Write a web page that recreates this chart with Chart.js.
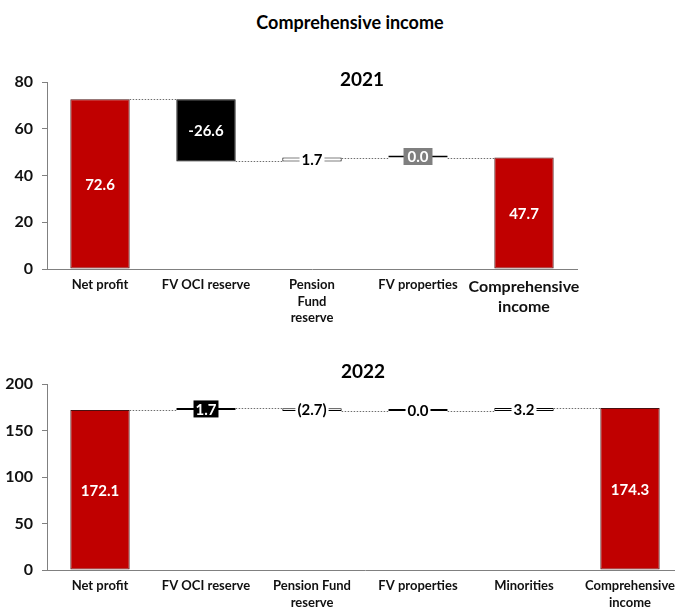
<!DOCTYPE html>
<html>
<head>
<meta charset="utf-8">
<script src="https://cdn.jsdelivr.net/npm/chart.js@4.4.1/dist/chart.umd.min.js"></script>
<style>
  body { margin: 0; background: #fff; overflow: hidden; }
  #page { position: relative; width: 675px; height: 608px; overflow: hidden; font-family: Lato, "Open Sans", sans-serif; }
  .box { position: absolute; left: 0; }
  .title { position: absolute; font-weight: bold; color: #000; white-space: nowrap; transform: translate(-50%, -50%); }
</style>
</head>
<body>
<div id="page">
  <div class="box" style="top:60px"><canvas id="chart2021" width="675" height="280"></canvas></div>
  <div class="box" style="top:350px"><canvas id="chart2022" width="685" height="258"></canvas></div>
  <div class="title" style="left:350px;top:22px;font-size:18px">Comprehensive income</div>
  <div class="title" style="left:362px;top:78px;font-size:19px">2021</div>
  <div class="title" style="left:363px;top:370px;font-size:19px">2022</div>
</div>
<script>
// 2021 bridge
const categories2021 = [["Net profit"], ["FV OCI reserve"], ["Pension", "Fund", "reserve"], ["FV properties"], ["Comprehensive", "income"]];
const changes2021 = [72.6, -26.6, 1.7, 0.0, 47.7];
const totals2021 = [true, false, false, false, true];
const yTicks2021 = [0, 20, 40, 60, 80];

// 2022 bridge
const categories2022 = [["Net profit"], ["FV OCI reserve"], ["Pension Fund", "reserve"], ["FV properties"], ["Minorities"], ["Comprehensive", "income"]];
const changes2022 = [172.1, 1.7, -2.7, 0.0, 3.2, 174.3];
const totals2022 = [true, false, false, false, false, true];
const yTicks2022 = [0, 50, 100, 150, 200];

const FONT = "Lato, 'Open Sans', sans-serif";
const AXIS_GREY = "#808080";
const TEXT = "#111";

const looks = {
    total: { fill: "#C00000", border: "#4a1010", text: "#fff", box: "#fff" },
    dark: { fill: "#000", border: "#000", text: "#fff", box: "#000" },
    open: { fill: "#fff", border: "#000", text: "#000", box: "#fff" },
    flat: { fill: "#000", border: "#000", text: "#000", box: "#fff" },
    flatGrey: { fill: "#000", border: "#000", text: "#fff", box: "#7f7f7f" }
};

/**
 * floating [start, end] pairs, totals start at zero
 * @param {number[]} changes
 * @param {boolean[]} totals
 */
function toRanges(changes, totals) {
    let run = 0;
    return changes.map((v, i) => {
        if (totals[i]) {
            run = v;
            return [0, v];
        }
        const r = [run, run + v];
        run += v;
        return r;
    });
}

// dotted connectors between bars + value labels
const waterfallDecor = {
    id: "waterfallDecor",
    afterDatasetsDraw(chart, args, opts) {
        const ctx = chart.ctx;
        const meta = chart.getDatasetMeta(0);
        const y = chart.scales.y;
        const ranges = chart.data.datasets[0].data;

        ctx.save();
        ctx.strokeStyle = "#6e6e6e";
        ctx.lineWidth = 1;
        ctx.setLineDash([1.5, 1.5]);
        for (let i = 0; i < meta.data.length - 1; i++) {
            const a = meta.data[i];
            const b = meta.data[i + 1];
            const py = Math.round(y.getPixelForValue(ranges[i][1])) + 0.5;
            ctx.beginPath();
            ctx.moveTo(a.x + a.width / 2, py);
            ctx.lineTo(b.x - b.width / 2, py);
            ctx.stroke();
        }
        ctx.setLineDash([]);

        ctx.font = `bold 15px ${FONT}`;
        ctx.textAlign = "center";
        ctx.textBaseline = "middle";
        meta.data.forEach((bar, i) => {
            const look = looks[opts.looks[i]];
            const text = opts.format(opts.values[i]);
            const cy = (bar.y + bar.base) / 2;
            const h = Math.abs(bar.base - bar.y);
            if (h > 24) {
                ctx.fillStyle = look.text;
                ctx.fillText(text, bar.x, cy + 1);
                return;
            }
            const tw = ctx.measureText(text).width;
            const bw = tw + opts.boxPad[i];
            ctx.fillStyle = look.box;
            ctx.fillRect(bar.x - bw / 2, cy - 8.5, bw, 17);
            ctx.fillStyle = look.text;
            ctx.fillText(text, bar.x, cy + 1);
        });
        ctx.restore();
    }
};

function makeWaterfall(id, categories, changes, totals, yTicks, barLooks, boxPad, format, axisHeight, padTop, padRight, bigIndex) {
    const data = toRanges(changes, totals);
    return new Chart(document.getElementById(id), {
        type: "bar",
        data: {
            labels: categories,
            datasets: [{
                data: data,
                backgroundColor: barLooks.map(k => looks[k].fill),
                borderColor: barLooks.map(k => looks[k].border),
                borderWidth: 1,
                borderSkipped: false,
                minBarLength: 2,
                categoryPercentage: 1,
                barPercentage: 0.56
            }]
        },
        options: {
            responsive: false,
            animation: false,
            layout: { padding: { top: padTop, right: padRight, left: 0, bottom: 0 } },
            plugins: {
                legend: { display: false },
                tooltip: { enabled: false },
                waterfallDecor: { values: changes, looks: barLooks, boxPad: boxPad, format: format }
            },
            scales: {
                x: {
                    grid: { display: false, drawTicks: false },
                    border: { color: AXIS_GREY, width: 1 },
                    afterFit: scale => { scale.height = axisHeight; },
                    ticks: {
                        autoSkip: false,
                        maxRotation: 0,
                        padding: 7,
                        color: TEXT,
                        font: ctx => ({
                            family: FONT,
                            weight: "bold",
                            size: ctx.index === bigIndex ? 16 : 13,
                            lineHeight: 1.3
                        })
                    }
                },
                y: {
                    min: yTicks[0],
                    max: yTicks[yTicks.length - 1],
                    afterBuildTicks: scale => { scale.ticks = yTicks.map(v => ({ value: v })); },
                    afterFit: scale => { scale.width = 47; },
                    grid: { drawOnChartArea: false, drawTicks: true, tickLength: 5, color: AXIS_GREY, lineWidth: 1 },
                    border: { color: AXIS_GREY, width: 1 },
                    ticks: {
                        padding: 9,
                        color: TEXT,
                        font: { family: FONT, weight: "bold", size: 16 }
                    }
                }
            }
        },
        plugins: [waterfallDecor]
    });
}

makeWaterfall("chart2021", categories2021, changes2021, totals2021, yTicks2021,
    ["total", "dark", "open", "flatGrey", "total"], [0, 0, 4, 8, 0],
    v => v.toFixed(1), 71, 22, 98, 4);

makeWaterfall("chart2022", categories2022, changes2022, totals2022, yTicks2022,
    ["total", "dark", "open", "flat", "open", "total"], [0, 4, 4, 4, 4, 0],
    v => v < 0 ? `(${Math.abs(v).toFixed(1)})` : v.toFixed(1), 38, 34, 2, -1);
</script>
</body>
</html>
